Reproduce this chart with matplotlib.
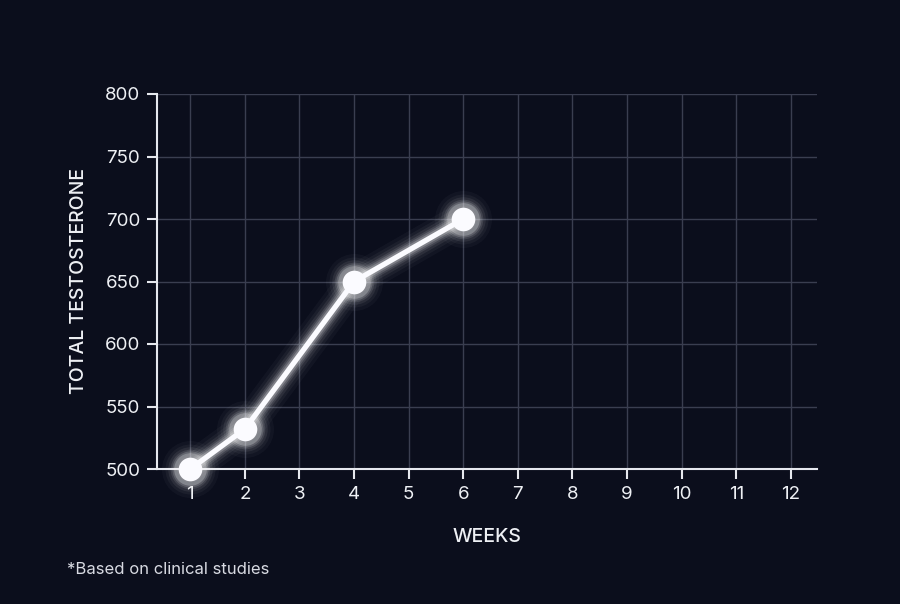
import matplotlib
matplotlib.use("Agg")
import matplotlib.pyplot as plt

# Données
weeks = [1, 2, 4, 6]
testosterone = [500, 532, 650, 700]
x_ticks = list(range(1, 13))
y_ticks = [500, 550, 600, 650, 700, 750, 800]

bg = "#0b0e1c"
grid_col = "#3a3e50"
txt_col = "#eef0f4"

plt.rcParams["font.family"] = ["Inter", "DejaVu Sans"]

fig = plt.figure(figsize=(9, 6.04), dpi=100, facecolor=bg)
ax = fig.add_axes([157 / 900, 1 - 469 / 604, (817 - 157) / 900, (469 - 94) / 604])
ax.set_facecolor(bg)

ax.set_xlim(0.39, 12.48)
ax.set_ylim(500, 800)
ax.set_xticks(x_ticks)
ax.set_yticks(y_ticks)
ax.grid(True, color=grid_col, linewidth=1)
ax.set_axisbelow(True)

for side in ["top", "right"]:
    ax.spines[side].set_visible(False)
for side in ["left", "bottom"]:
    ax.spines[side].set_color("#e6e8ee")
    ax.spines[side].set_linewidth(1.5)

ax.tick_params(colors="#e6e8ee", length=7, width=1.5, labelsize=13.5,
               labelcolor=txt_col, pad=5)

# Effet de halo (plusieurs couches transparentes)
for lw, a in [(24, 0.03), (19, 0.045), (15, 0.07), (11.5, 0.10), (9, 0.15), (6.5, 0.22)]:
    ax.plot(weeks, testosterone, color="white", linewidth=lw, alpha=a,
            solid_capstyle="round", clip_on=False, zorder=3)
    ax.plot(weeks, testosterone, linestyle="none", marker="o",
            markersize=17 + lw, color="white", alpha=a, markeredgewidth=0,
            clip_on=False, zorder=3)

ax.plot(weeks, testosterone, color="#fbfbff", linewidth=3.8, marker="o",
        markersize=17, markeredgewidth=0, clip_on=False, zorder=4)

ax.set_ylabel("TOTAL TESTOSTERONE", fontsize=14, fontweight="medium",
              color=txt_col, labelpad=12)
ax.set_xlabel("WEEKS", fontsize=14, fontweight="medium", color=txt_col, labelpad=18)

fig.text(67 / 900, 1 - 570 / 604, "*Based on clinical studies", fontsize=12,
         color="#d8dae2", va="center", ha="left")

fig.savefig("out.png", dpi=100, facecolor=bg)
